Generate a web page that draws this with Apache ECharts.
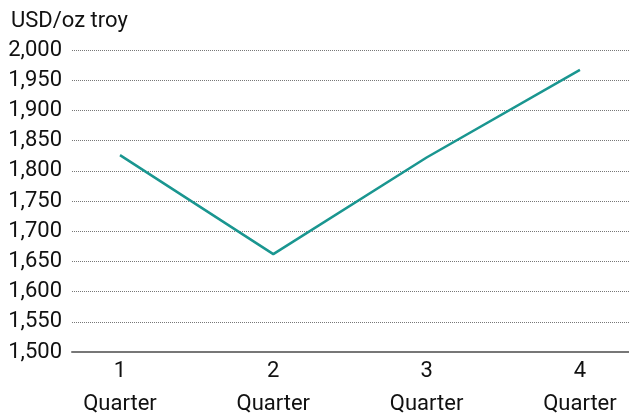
<!DOCTYPE html>
<html>
<head>
<meta charset="utf-8">
<script src="https://cdn.jsdelivr.net/npm/echarts@6/dist/echarts.min.js"></script>
<style>
  html, body { margin: 0; padding: 0; background: #fff; }
  #chart { width: 629px; height: 415px; }
</style>
</head>
<body>
<div id="chart"></div>
<script>
// Gold price by quarter, USD per troy ounce
const quarters = [1, 2, 3, 4];
const prices = [1826, 1662, 1822, 1967];
const unitLabel = 'USD/oz troy';
const quarterWord = 'Quarter';

const chart = echarts.init(document.getElementById('chart'), null, { renderer: 'canvas' });
const font = 'Roboto, "DejaVu Sans", sans-serif';

chart.setOption({
  animation: false,
  backgroundColor: '#ffffff',
  title: {
    text: unitLabel,
    left: 6,
    top: 5,
    textStyle: { fontFamily: font, fontSize: 22, fontWeight: 'normal', color: '#111' }
  },
  grid: { left: 72, right: 0, top: 50, bottom: 63, containLabel: false, outerBoundsMode: 'none' },
  xAxis: {
    type: 'value',
    min: 0.687,
    max: 4.32,
    splitLine: { show: false },
    axisTick: { show: false },
    axisLine: { show: true, onZero: false, lineStyle: { color: '#777', width: 2 } },
    axisLabel: {
      customValues: quarters,
      formatter: v => v + '\n' + quarterWord,
      fontFamily: font,
      fontSize: 22,
      color: '#111',
      lineHeight: 33,
      margin: 3
    }
  },
  yAxis: {
    type: 'value',
    min: 1500,
    max: 2000,
    interval: 50,
    axisLine: { show: false },
    axisTick: { show: false },
    splitLine: { show: true, lineStyle: { color: '#777', type: [1, 1], width: 1 } },
    axisLabel: {
      formatter: v => v.toLocaleString('en-US'),
      fontFamily: font,
      fontSize: 22,
      color: '#111',
      margin: 10
    }
  },
  series: [{
    type: 'line',
    data: quarters.map((q, i) => [q, prices[i]]),
    showSymbol: false,
    lineStyle: { color: '#1a9690', width: 2.5 },
    z: 3
  }]
});
</script>
</body>
</html>
